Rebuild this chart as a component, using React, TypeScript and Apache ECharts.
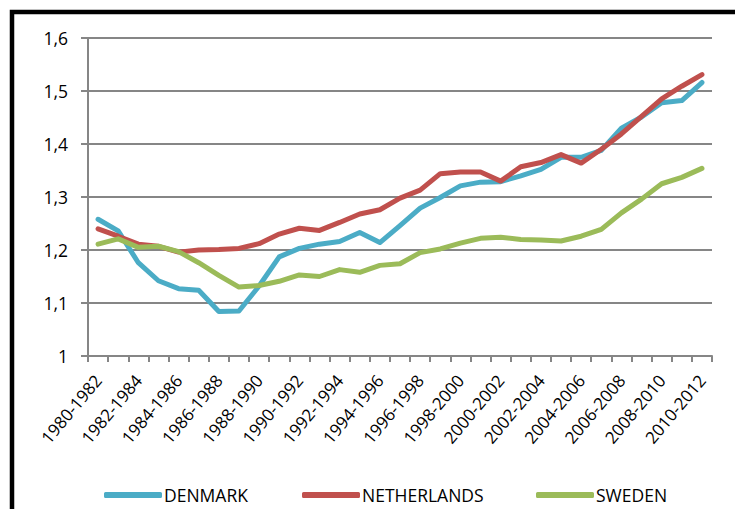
import React, { useEffect, useRef } from "react";
import * as echarts from "echarts";

const categories: string[] = [
  "1980-1982", "1981-1983", "1982-1984", "1983-1985", "1984-1986", "1985-1987",
  "1986-1988", "1987-1989", "1988-1990", "1989-1991", "1990-1992", "1991-1993",
  "1992-1994", "1993-1995", "1994-1996", "1995-1997", "1996-1998", "1997-1999",
  "1998-2000", "1999-2001", "2000-2002", "2001-2003", "2002-2004", "2003-2005",
  "2004-2006", "2005-2007", "2006-2008", "2007-2009", "2008-2010", "2009-2011",
  "2010-2012",
];

const denmark: number[] = [
  1.258, 1.236, 1.176, 1.142, 1.127, 1.124, 1.084, 1.085, 1.132, 1.187, 1.203,
  1.211, 1.216, 1.233, 1.214, 1.246, 1.279, 1.299, 1.321, 1.328, 1.329, 1.34,
  1.352, 1.375, 1.375, 1.388, 1.43, 1.451, 1.478, 1.482, 1.516,
];

const netherlands: number[] = [
  1.24, 1.226, 1.211, 1.207, 1.196, 1.2, 1.201, 1.203, 1.212, 1.23, 1.241,
  1.237, 1.252, 1.268, 1.276, 1.298, 1.313, 1.344, 1.347, 1.347, 1.33, 1.357,
  1.365, 1.38, 1.364, 1.39, 1.419, 1.452, 1.485, 1.509, 1.531,
];

const sweden: number[] = [
  1.211, 1.221, 1.205, 1.207, 1.197, 1.176, 1.152, 1.13, 1.133, 1.141, 1.153,
  1.15, 1.163, 1.158, 1.171, 1.174, 1.195, 1.202, 1.213, 1.222, 1.224, 1.22,
  1.219, 1.217, 1.226, 1.239, 1.27, 1.296, 1.325, 1.337, 1.354,
];

const seriesNames = ["DENMARK", "NETHERLANDS", "SWEDEN"];
const seriesColors = ["#4BACC6", "#C0504D", "#9BBB59"];
const seriesData = [denmark, netherlands, sweden];

const FONT = "'Open Sans', 'Noto Sans', sans-serif";

export default function App() {
  const ref = useRef<HTMLDivElement>(null);

  useEffect(() => {
    if (!ref.current) return;
    const chart = echarts.init(ref.current, undefined, { renderer: "svg" });
    const legendLefts = [99, 297, 531];
    chart.setOption({
      animation: false,
      backgroundColor: "#ffffff",
      textStyle: { fontFamily: FONT },
      graphic: [
        {
          type: "rect",
          shape: { x: 12, y: 12, width: 900, height: 700 },
          style: { fill: "none", stroke: "#000", lineWidth: 4.5 },
          z: 100,
        },
      ],
      legend: seriesNames.map((name, i) => ({
        data: [name],
        left: legendLefts[i],
        top: 481,
        icon: "roundRect",
        itemWidth: 58,
        itemHeight: 6,
        itemGap: 0,
        textStyle: {
          fontFamily: FONT,
          fontSize: 17.5,
          color: "#000",
          padding: [0, 0, 0, -3],
        },
      })),
      grid: { left: 88, top: 38, right: 23, bottom: 153, containLabel: false },
      xAxis: {
        type: "category",
        data: categories,
        boundaryGap: true,
        axisLine: { lineStyle: { color: "#868686", width: 2 } },
        axisTick: {
          show: true,
          interval: 0,
          length: 6,
          lineStyle: { color: "#868686", width: 2 },
        },
        axisLabel: {
          interval: 1,
          rotate: 50,
          margin: 21,
          fontSize: 17,
          color: "#000",
          fontFamily: FONT,
        },
        splitLine: { show: false },
      },
      yAxis: {
        type: "value",
        min: 1,
        max: 1.6,
        interval: 0.1,
        axisLine: { show: true, lineStyle: { color: "#868686", width: 2 } },
        axisTick: {
          show: true,
          length: 7,
          lineStyle: { color: "#868686", width: 2 },
        },
        axisLabel: {
          margin: 20,
          fontSize: 17.5,
          color: "#000",
          fontFamily: FONT,
          formatter: (v: number) => String(+v.toFixed(1)).replace(".", ","),
        },
        splitLine: { lineStyle: { color: "#868686", width: 2 } },
      },
      series: seriesNames.map((name, i) => ({
        name,
        type: "line",
        data: seriesData[i],
        symbol: "none",
        color: seriesColors[i],
        lineStyle: { width: 5, color: seriesColors[i], cap: "round", join: "round" },
        z: 2 + i,
      })),
    });
    return () => chart.dispose();
  }, []);

  return (
    <div
      ref={ref}
      style={{ position: "fixed", left: 0, top: 0, width: 735, height: 509 }}
    />
  );
}
